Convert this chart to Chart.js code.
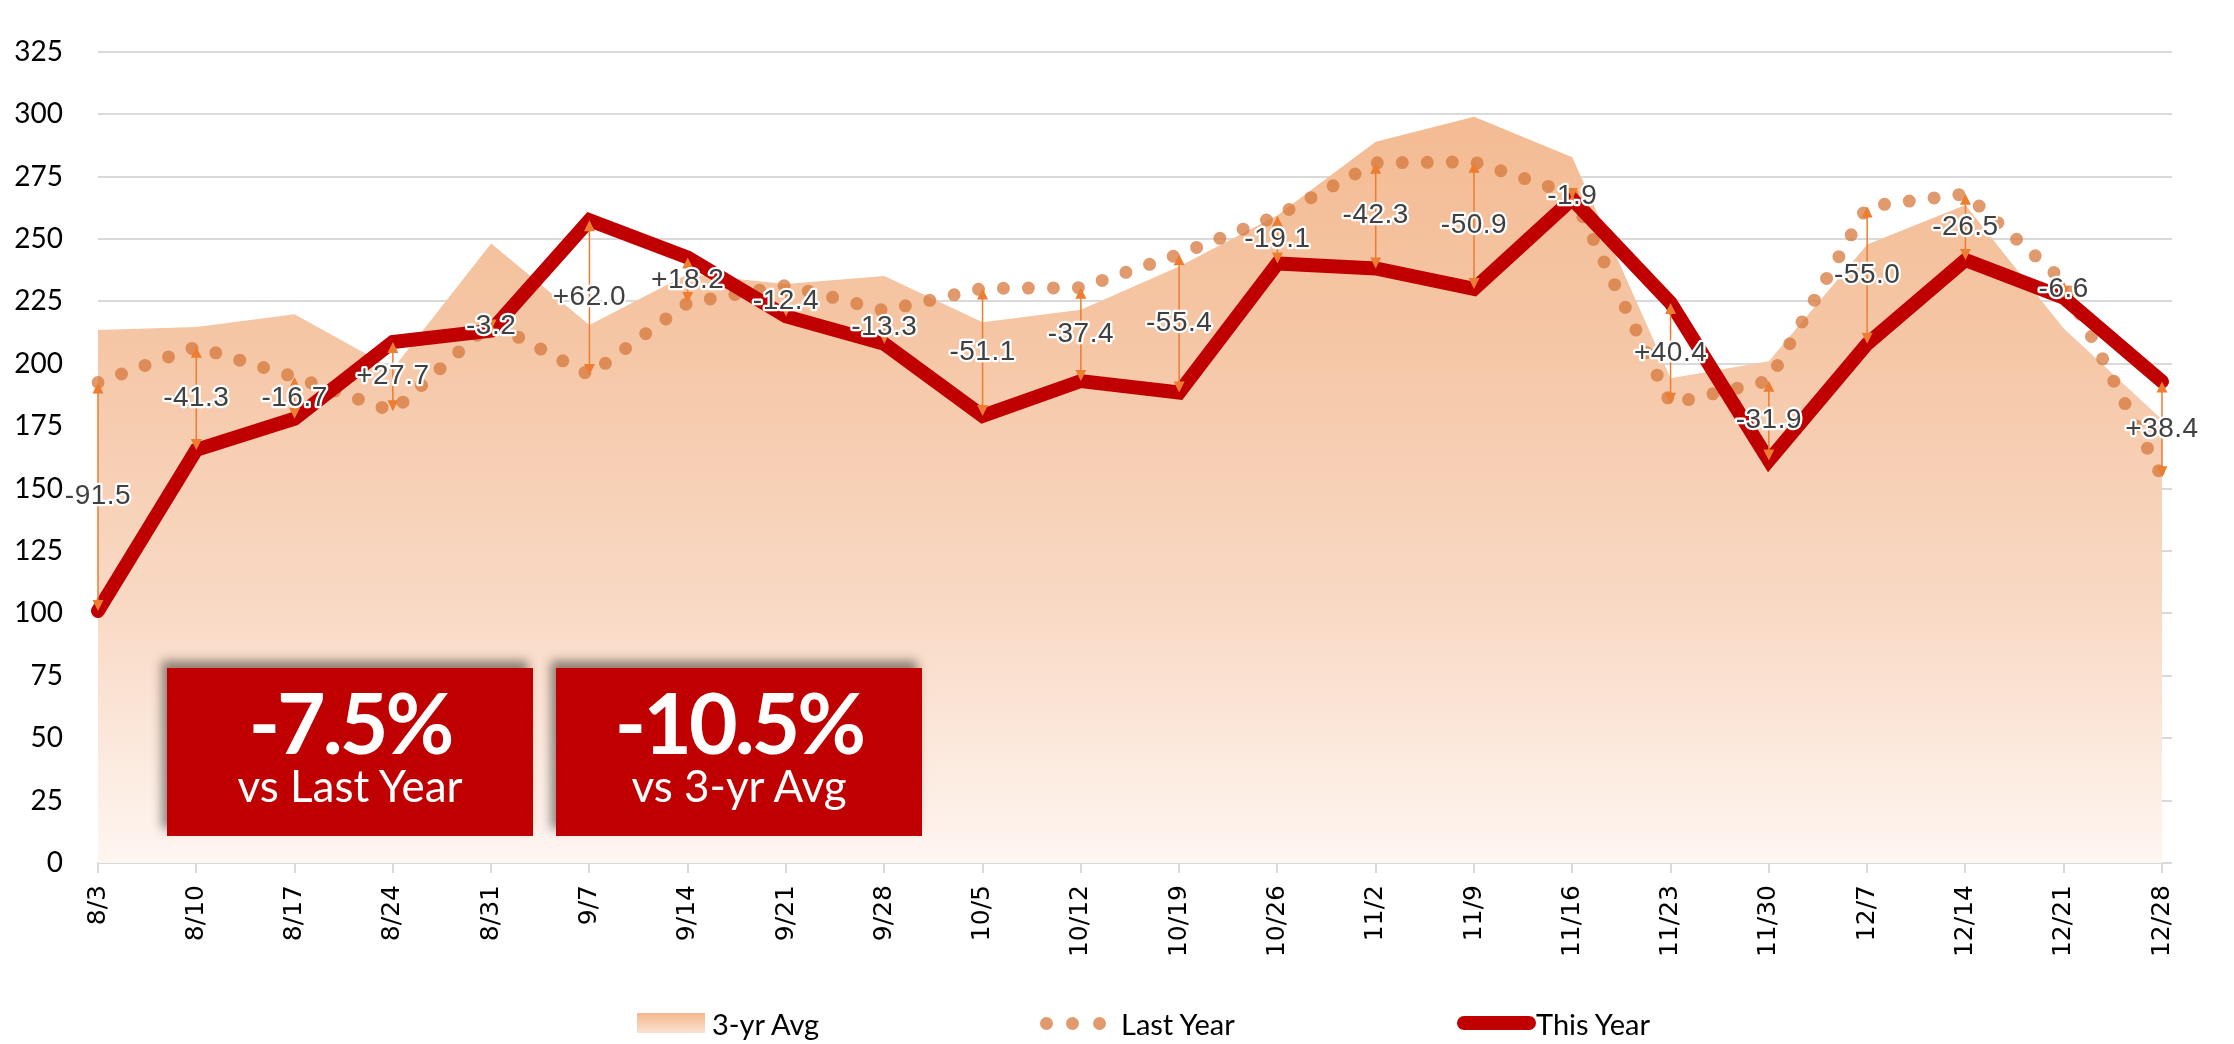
<!DOCTYPE html>
<html>
<head>
<meta charset="utf-8">
<script src="https://cdn.jsdelivr.net/npm/chart.js@4.4.1/dist/chart.umd.min.js"></script>
<style>
  body { margin: 0; background: #fff; }
  #wrap { position: relative; width: 2234px; height: 1044px; overflow: hidden; }
  #chart { position: absolute; left: 0; top: 0; }
  .kpi {
    position: absolute; top: 668px; width: 366px; height: 168px;
    background: #C00000; color: #fff; font-family: Lato, sans-serif;
    box-shadow: -5px -7px 10px rgba(0, 0, 0, 0.45);
  }
  .kpi .big {
    position: absolute; left: 0; right: 0; top: 12px; text-align: center;
    font-size: 84px; font-weight: 700; line-height: 84px; letter-spacing: -3px;
  }
  .kpi .small {
    position: absolute; left: 0; right: 0; top: 95px; text-align: center;
    font-size: 44px; line-height: 44px;
  }
  .leg { position: absolute; font-family: Lato, sans-serif; font-size: 29px; line-height: 29px; color: #000; white-space: nowrap; }
  .sw { position: absolute; }
</style>
</head>
<body>
<div id="wrap">
  <canvas id="chart" width="2234" height="1044"></canvas>
  <div id="overlay"></div>
</div>
<script>
// week labels
const weeks = ['8/3', '8/10', '8/17', '8/24', '8/31', '9/7', '9/14', '9/21', '9/28', '10/5', '10/12',
  '10/19', '10/26', '11/2', '11/9', '11/16', '11/23', '11/30', '12/7', '12/14', '12/21', '12/28'];

const avg3yr = [213.5, 214.7, 219.9, 198.0, 248.2, 215.5, 236.0, 232.0, 235.2, 216.6, 221.7,
  239.0, 259.5, 289.0, 299.0, 282.8, 194.2, 201.0, 247.8, 263.6, 214.1, 177.7];

const lastYear = [192.5, 206.8, 194.7, 181.0, 216.5, 195.5, 224.4, 231.4, 221.3, 230.2, 230.5,
  243.9, 259.3, 280.5, 280.9, 267.9, 184.0, 193.2, 263.0, 268.1, 233.1, 154.5];

const thisYear = [101.0, 165.5, 178.0, 208.7, 213.3, 257.5, 242.6, 219.0, 208.0, 179.1, 193.1,
  188.5, 240.2, 238.2, 230.0, 266.0, 224.4, 161.3, 208.0, 241.6, 226.5, 192.9];

const seriesNames = ['3-yr Avg', 'Last Year', 'This Year'];
const kpiValues = ['-7.5%', '-10.5%'];
const kpiCaptions = ['vs Last Year', 'vs 3-yr Avg'];

const ORANGE = '#ED7D31';
const DOT = 'rgba(214,120,60,0.75)';
const RED = '#C00000';

function areaFill(context) {
    const chart = context.chart;
    const area = chart.chartArea;
    if (!area) return null;
    const g = chart.ctx.createLinearGradient(0, area.top, 0, area.bottom);
    g.addColorStop(0, '#F3B88E');
    g.addColorStop(0.35, '#F5C6A5');
    g.addColorStop(0.7, '#F9DAC6');
    g.addColorStop(1, '#FEF6F1');
    return g;
}

// gridlines run a little past the last week, like the original
const gridTail = {
    id: 'gridTail',
    beforeDatasetsDraw(chart) {
        const ctx = chart.ctx, ys = chart.scales.y, r = chart.chartArea.right;
        ctx.save();
        ctx.strokeStyle = '#D9D9D9';
        ctx.lineWidth = 2;
        ys.ticks.forEach(t => {
            const py = Math.round(ys.getPixelForValue(t.value));
            ctx.beginPath();
            ctx.moveTo(r, py);
            ctx.lineTo(r + 10, py);
            ctx.stroke();
        });
        ctx.restore();
    }
};

// arrows between this year / last year + the difference labels
const diffArrows = {
    id: 'diffArrows',
    afterDatasetsDraw(chart) {
        const ctx = chart.ctx;
        const xs = chart.scales.x, ys = chart.scales.y;
        ctx.save();
        thisYear.forEach((ty, i) => {
            const px = xs.getPixelForValue(i);
            const a = ys.getPixelForValue(ty), b = ys.getPixelForValue(lastYear[i]);
            const top = Math.min(a, b), bot = Math.max(a, b);
            ctx.strokeStyle = ORANGE;
            ctx.lineWidth = 1.5;
            ctx.beginPath();
            ctx.moveTo(px, top + 6);
            ctx.lineTo(px, bot - 6);
            ctx.stroke();
            ctx.fillStyle = ORANGE;
            ctx.beginPath();
            ctx.moveTo(px, top); ctx.lineTo(px - 5.5, top + 11); ctx.lineTo(px + 5.5, top + 11);
            ctx.fill();
            ctx.beginPath();
            ctx.moveTo(px, bot); ctx.lineTo(px - 5.5, bot - 11); ctx.lineTo(px + 5.5, bot - 11);
            ctx.fill();
        });
        ctx.font = '28px "Liberation Sans"';
        ctx.letterSpacing = '0.5px';
        ctx.textAlign = 'center';
        ctx.textBaseline = 'middle';
        ctx.lineJoin = 'round';
        thisYear.forEach((ty, i) => {
            const d = Math.round((ty - lastYear[i]) * 10) / 10;
            const txt = (d > 0 ? '+' : '') + d.toFixed(1);
            const px = xs.getPixelForValue(i);
            const py = ys.getPixelForValue((ty + lastYear[i]) / 2);
            ctx.lineWidth = 4.5;
            ctx.strokeStyle = '#fff';
            ctx.strokeText(txt, px, py);
            ctx.fillStyle = '#404040';
            ctx.fillText(txt, px, py);
        });
        ctx.restore();
    }
};

new Chart(document.getElementById('chart').getContext('2d'), {
    type: 'line',
    data: {
        labels: weeks,
        datasets: [
            {
                label: seriesNames[2],
                data: thisYear,
                borderColor: RED,
                borderWidth: 14,
                borderJoinStyle: 'miter',
                borderCapStyle: 'round',
                pointRadius: 0,
                fill: false,
                order: 0,
            },
            {
                label: seriesNames[1],
                data: lastYear,
                borderColor: DOT,
                borderWidth: 13,
                borderDash: [0, 25],
                borderCapStyle: 'round',
                pointRadius: 0,
                fill: false,
                order: 1,
            },
            {
                label: seriesNames[0],
                data: avg3yr,
                backgroundColor: areaFill,
                borderColor: 'transparent',
                borderWidth: 0,
                pointRadius: 0,
                fill: 'origin',
                order: 2,
            },
        ],
    },
    options: {
        responsive: false,
        devicePixelRatio: 1,
        animation: false,
        layout: { padding: { top: 18, right: 72, bottom: 0, left: 0 } },
        plugins: {
            legend: { display: false },
            tooltip: { enabled: false },
        },
        scales: {
            x: {
                type: 'category',
                offset: false,
                grid: { drawOnChartArea: false, drawTicks: true, tickLength: 10, color: '#D9D9D9', lineWidth: 2 },
                border: { display: true, color: '#D9D9D9', width: 2 },
                ticks: {
                    autoSkip: false, minRotation: 90, maxRotation: 90, padding: 12,
                    color: '#000', font: { family: '"DejaVu Sans"', size: 25 },
                },
                afterFit(scale) { scale.height = 181; },
            },
            y: {
                min: 0,
                max: 325,
                ticks: { stepSize: 25, padding: 35, color: '#000', font: { family: 'Lato', size: 28 } },
                grid: { color: '#D9D9D9', lineWidth: 2, drawTicks: false },
                border: { display: false },
                afterFit(scale) { scale.width = 98; },
            },
        },
    },
    plugins: [gridTail, diffArrows],
});

// KPI boxes and legend
const overlay = document.getElementById('overlay');
const boxLeft = [167, 556];
kpiValues.forEach((v, i) => {
    const box = document.createElement('div');
    box.className = 'kpi';
    box.style.left = boxLeft[i] + 'px';
    box.innerHTML = '<div class="big">' + v + '</div><div class="small">' + kpiCaptions[i] + '</div>';
    overlay.appendChild(box);
});

function addEl(cls, css, html) {
    const el = document.createElement('div');
    el.className = cls;
    el.style.cssText = css;
    if (html) el.textContent = html;
    overlay.appendChild(el);
}
addEl('sw', 'left:637px;top:1013px;width:68px;height:20px;background:linear-gradient(#F3B88E,#FBE2D2);');
addEl('leg', 'left:712px;top:1009px;', seriesNames[0]);
[1046, 1072, 1099].forEach(cx => {
    addEl('sw', 'left:' + (cx - 6.5) + 'px;top:1017px;width:13px;height:13px;border-radius:50%;background:' + DOT + ';');
});
addEl('leg', 'left:1121px;top:1009px;', seriesNames[1]);
addEl('sw', 'left:1457px;top:1016px;width:79px;height:14px;border-radius:7px;background:' + RED + ';');
addEl('leg', 'left:1536px;top:1009px;', seriesNames[2]);
</script>
</body>
</html>
